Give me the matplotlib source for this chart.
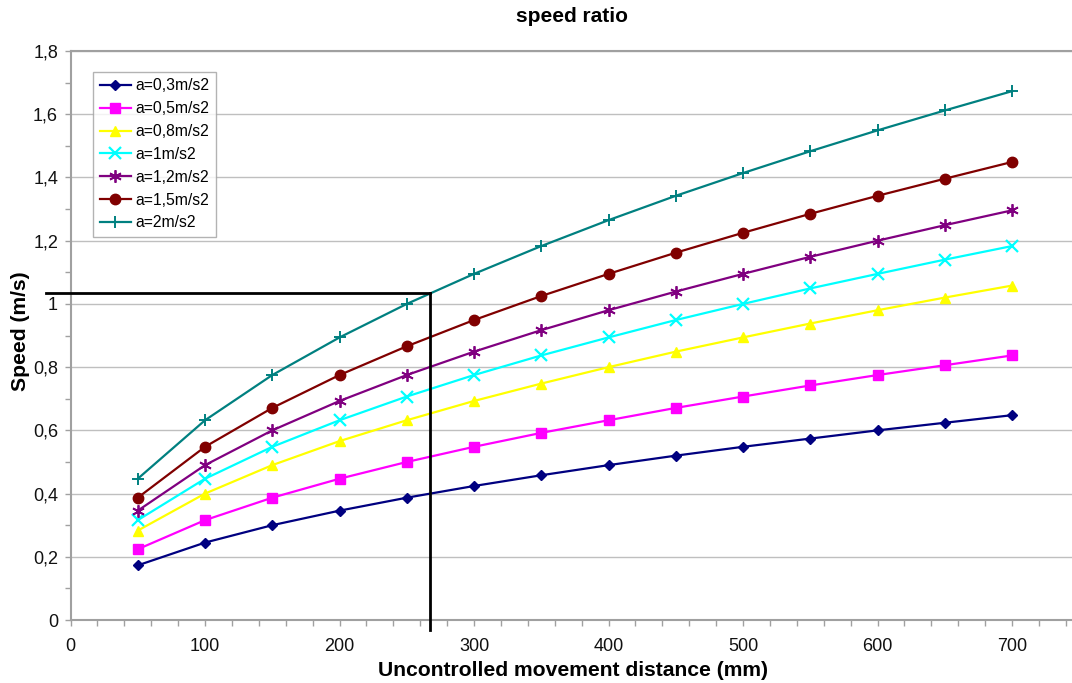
import matplotlib
matplotlib.use("Agg")
import matplotlib.pyplot as plt
from matplotlib.ticker import MultipleLocator, FuncFormatter

plt.rcParams['font.family'] = ['Liberation Sans', 'DejaVu Sans']

# Uncontrolled movement distance (mm)
distance = [50, 100, 150, 200, 250, 300, 350, 400, 450, 500, 550, 600, 650, 700]

# Speed (m/s) for each acceleration
speed_a03 = [0.173, 0.245, 0.300, 0.346, 0.387, 0.424, 0.458, 0.490, 0.520, 0.548, 0.574, 0.600, 0.624, 0.648]
speed_a05 = [0.224, 0.316, 0.387, 0.447, 0.500, 0.548, 0.592, 0.632, 0.671, 0.707, 0.742, 0.775, 0.806, 0.837]
speed_a08 = [0.283, 0.400, 0.490, 0.566, 0.632, 0.693, 0.748, 0.800, 0.849, 0.894, 0.938, 0.980, 1.020, 1.058]
speed_a10 = [0.316, 0.447, 0.548, 0.632, 0.707, 0.775, 0.837, 0.894, 0.949, 1.000, 1.049, 1.095, 1.140, 1.183]
speed_a12 = [0.346, 0.490, 0.600, 0.693, 0.775, 0.849, 0.917, 0.980, 1.039, 1.095, 1.149, 1.200, 1.249, 1.296]
speed_a15 = [0.387, 0.548, 0.671, 0.775, 0.866, 0.949, 1.025, 1.095, 1.162, 1.225, 1.285, 1.342, 1.396, 1.449]
speed_a20 = [0.447, 0.632, 0.775, 0.894, 1.000, 1.095, 1.183, 1.265, 1.342, 1.414, 1.483, 1.549, 1.612, 1.673]

series_labels = ['a=0,3m/s2', 'a=0,5m/s2', 'a=0,8m/s2', 'a=1m/s2',
                 'a=1,2m/s2', 'a=1,5m/s2', 'a=2m/s2']

# Reading marked on the chart: distance and speed
ref_distance = 267
ref_speed = 1.035

series = [speed_a03, speed_a05, speed_a08, speed_a10, speed_a12, speed_a15, speed_a20]
colors = ['#000080', '#FF00FF', '#FFFF00', '#00FFFF', '#800080', '#800000', '#008080']
markers = ['D', 's', '^', 'x', (6, 2, 0), 'o', '+']
msizes = [5.5, 7, 7, 8, 9, 7.5, 9]
mews = [1, 1, 1, 1.6, 1.3, 1, 1.4]

fig = plt.figure(figsize=(10.72, 6.83), dpi=100)
ax = fig.add_axes([0.0658, 0.0922, 0.941, 0.8331])

for ys, lab, c, m, ms, mw in zip(series, series_labels, colors, markers, msizes, mews):
    ax.plot(distance, ys, color=c, marker=m, markersize=ms, markeredgewidth=mw,
            markeredgecolor=c, markerfacecolor=c, linewidth=1.6, label=lab,
            clip_on=False, zorder=3)

ax.set_xlim(0, 750)
ax.set_ylim(0, 1.8)
ax.xaxis.set_major_locator(MultipleLocator(100))
ax.xaxis.set_minor_locator(MultipleLocator(20))
ax.yaxis.set_major_locator(MultipleLocator(0.2))
ax.yaxis.set_minor_locator(MultipleLocator(0.1))
ax.yaxis.set_major_formatter(FuncFormatter(
    lambda v, p: ('%g' % round(v, 1)).replace('.', ',')))
ax.xaxis.set_major_formatter(FuncFormatter(lambda v, p: '%d' % v))

ax.grid(axis='y', which='major', color='#BFBFBF', linewidth=1)
ax.set_axisbelow(True)
for side in ['left', 'bottom', 'top', 'right']:
    ax.spines[side].set_color('#A0A0A0')
    ax.spines[side].set_linewidth(1.5)

ax.tick_params(axis='both', which='both', direction='out', color='#A0A0A0',
               length=4, width=1)
ax.tick_params(axis='both', which='major', labelsize=13, labelcolor='#111111')
ax.tick_params(axis='x', which='major', pad=9)
ax.tick_params(axis='y', which='major', pad=5)

# Marked reading lines
ax.plot([-18, ref_distance], [ref_speed, ref_speed], color='black',
        linewidth=2, clip_on=False, zorder=4)
ax.plot([ref_distance, ref_distance], [ref_speed, -0.032], color='black',
        linewidth=2, clip_on=False, zorder=4)

fig.text(573 / 1072, 1 - 671 / 683, 'Uncontrolled movement distance (mm)',
         ha='center', va='center', fontsize=15.2, fontweight='bold')
fig.text(21 / 1072, 1 - 331 / 683, 'Speed (m/s)', ha='center', va='center',
         rotation=90, fontsize=15.2, fontweight='bold')
fig.text(572 / 1072, 1 - 17 / 683, 'speed ratio', ha='center', va='center',
         fontsize=15, fontweight='bold')

leg = ax.legend(loc='upper left', bbox_to_anchor=(0.0225, 0.963),
                fontsize=11.3, frameon=True, fancybox=False,
                handlelength=2.0, handletextpad=0.3, labelspacing=0.5,
                borderpad=0.4, borderaxespad=0)
leg.get_frame().set_edgecolor('#A0A0A0')
leg.get_frame().set_linewidth(1)

fig.savefig('out.png', dpi=100)
